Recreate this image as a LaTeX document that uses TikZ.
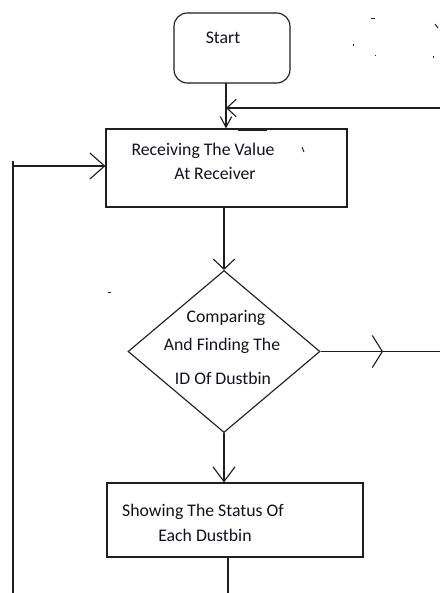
\documentclass[tikz,border=0pt]{standalone}
\usepackage{fontspec}
\setmainfont{Carlito}
\usetikzlibrary{arrows.meta,shapes.geometric}
\definecolor{ink}{HTML}{1E1E1E}
\definecolor{txt}{HTML}{101020}
\begin{document}
\begin{tikzpicture}[x=0.75pt,y=-0.75pt,
  ln/.style={draw=ink,line width=0.85pt},
  boxstyle/.style={ln,rectangle,inner sep=0pt},
  startbox/.style={ln,rectangle,rounded corners=10pt,inner sep=0pt,minimum width=87pt,minimum height=52.5pt},
  decbox/.style={ln,diamond,inner sep=0pt,minimum width=144pt,minimum height=121.5pt},
  lbl/.style={font=\fontsize{13.3pt}{15pt}\selectfont,text=txt,inner sep=0pt,anchor=center},
  arr/.style={ln,-{Straight Barb[length=#1]}},
  arr/.default={8pt}
]
\useasboundingbox (0,0) rectangle (440,593);

% nodes
\node[startbox] (start) at (232,48) {};
\node[lbl] (starttext) at (223,38) {Start};

\node[boxstyle,minimum width=180.75pt,minimum height=58.5pt] (recv) at (226.5,168) {};
\node[lbl] (recvA) at (203,151) {Receiving The Value};
\node[lbl] (recvB) at (215,173) {At Receiver};

\node[decbox] (dia) at (224,351.5) {};
\node[lbl] (diaA) at (226,318) {Comparing};
\node[lbl] (diaB) at (222,346) {And Finding The};
\node[lbl] (diaC) at (223,378) {ID Of Dustbin};

\node[boxstyle,minimum width=192pt,minimum height=55.5pt] (show) at (235,520) {};
\node[lbl] (showA) at (203,512) {Showing The Status Of};
\node[lbl] (showB) at (205,535) {Each Dustbin};

% coordinates
\coordinate (sdrop) at (226,83);
\coordinate (rtop) at (440,108);
\coordinate (ltop) at (13,161);
\coordinate (lbot) at (13,593);
\coordinate (lcorner) at (13,166);
\coordinate (rmid) at (383,351.5);
\coordinate (rend) at (440,351.5);
\coordinate (sbot) at (228,593);

% connectors
\draw[ln,-{Straight Barb[length=8pt,width=8.5pt]}] (sdrop) -- (sdrop |- recv.north);
\draw[ln,-{Straight Barb[length=7pt,width=13pt]}] (rtop) -- (rtop -| sdrop);
\draw[ln] (ltop) -- (lbot);
\draw[ln,-{Straight Barb[length=11pt,width=19.5pt]}] (lcorner) -- (lcorner -| recv.west);
\draw[ln,-{Straight Barb[length=7.5pt,width=16pt]}] (dia.north |- recv.south) -- (dia.north);
\draw[ln,-{Straight Barb[length=7.5pt,width=24pt]}] (dia.east) -- (rmid);
\draw[ln] (rmid) -- (rend);
\draw[ln,-{Straight Barb[length=11pt,width=16.5pt]}] (dia.south) -- (dia.south |- show.north);
\draw[ln] (show.south -| sbot) -- (sbot);

% stray marks
\draw[ink,line width=1.6pt] (238,129.5) -- (267,129.5);
\draw[ink,line width=0.7pt] (371,18) -- (375,18);
\draw[ink,line width=0.9pt] (352.5,45) -- (353.5,45);
\draw[ink,line width=0.9pt] (374.5,55.5) -- (375.5,55.5);
\draw[ink,line width=0.9pt] (432.5,57) -- (433.5,57);
\draw[ink,line width=0.7pt] (435,24) -- (438,28);
\draw[ink,line width=0.7pt] (302,147) -- (304,152);
\draw[ink,line width=0.7pt] (108,292) -- (111,292);
\end{tikzpicture}
\end{document}
